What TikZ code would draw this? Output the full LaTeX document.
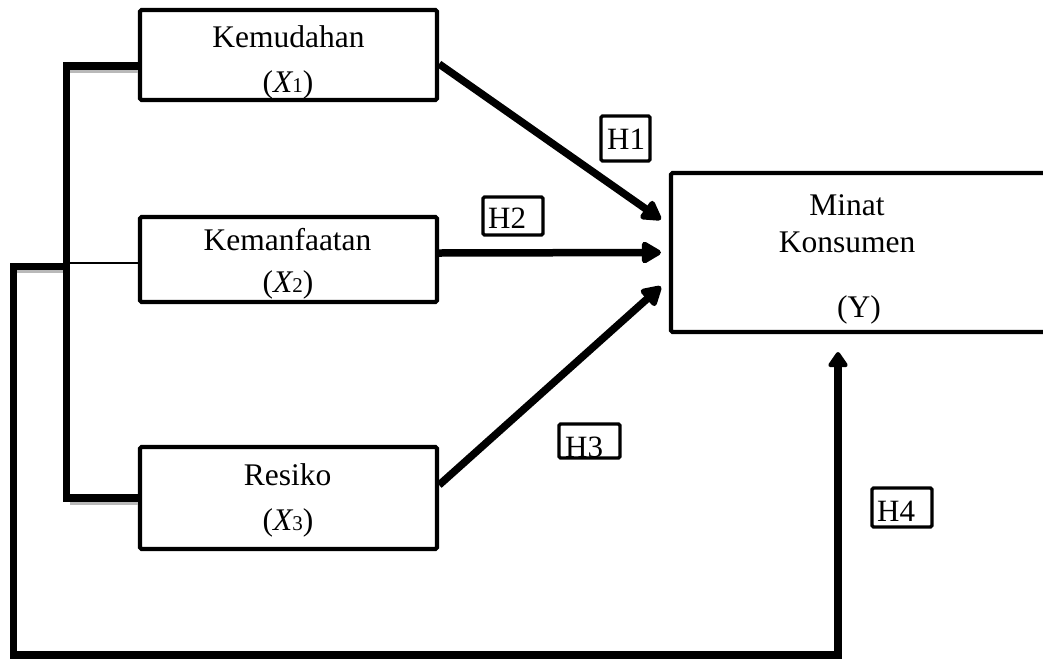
\documentclass[tikz,border=0pt]{standalone}
\usepackage{fontspec}
\setmainfont{Liberation Serif}
\usetikzlibrary{arrows.meta}
\newcommand\xsub[1]{{\itshape X}{\fontsize{21}{21}\selectfont #1}}
\begin{document}
\begin{tikzpicture}[x=1pt,y=-1pt,
  varbox/.style={draw, line width=4.2pt, rounded corners=1.5pt, inner sep=0pt},
  lbl/.style={font=\fontsize{31.5}{38}\selectfont, inner sep=0pt, anchor=base},
  hbox/.style={draw, line width=3.4pt, rounded corners=1.5pt, inner sep=0pt},
  htext/.style={font=\fontsize{31}{36}\selectfont, inner sep=0pt, anchor=base west},
  conn/.style={line width=7.5pt},
  arr/.style={conn, -{Triangle[length=22pt,width=24pt,round]}},
  shadowline/.style={gray!55, line width=2.5pt}
]
\useasboundingbox (0,0) rectangle (1043,659);
\clip (0,0) rectangle (1043,659);

% boxes
\node[varbox, minimum width=297pt, minimum height=90pt] (k) at (288.5,55) {};
\node[varbox, minimum width=297pt, minimum height=85pt] (f) at (288.5,259.5) {};
\node[varbox, minimum width=297pt, minimum height=102pt] (r) at (288.5,498) {};
\node[varbox, minimum width=429pt, minimum height=159pt] (m) at (885.5,252.5) {};

% texts
\node[lbl] (kt1) at (288.5,47) {Kemudahan};
\node[lbl] (kt2) at (288,92) {(\xsub{1})};
\node[lbl] (ft1) at (287.5,250) {Kemanfaatan};
\node[lbl] (ft2) at (288,292) {(\xsub{2})};
\node[lbl] (rt1) at (287.5,485) {Resiko};
\node[lbl] (rt2) at (288,530) {(\xsub{3})};
\node[lbl] (mt1) at (847,215) {Minat};
\node[lbl] (mt2) at (847,252) {Konsumen};
\node[lbl] (mt3) at (859,317) {(Y)};

% bracket coordinates
\coordinate (bt) at (66.5,66);
\coordinate (bb) at (66.5,498);
\coordinate (bm) at (66.5,263);
\coordinate (oj) at (66.5,266.5);
\coordinate (ol) at (13.5,266.5);
\coordinate (obl) at (13.5,655);
\coordinate (obr) at (838,655);
\coordinate (h4e) at (838,352);

% shadows
\draw[shadowline] (70,71.5) -- (138,71.5);
\draw[shadowline] (70,503.5) -- (138,503.5);
\draw[shadowline] (17,271.5) -- (63,271.5);

% bracket
\draw[conn] ([yshift=-11pt]k.west) -- (bt) -- (bb) -- (r.west);
\draw[line width=1.5pt] (bm) -- (f.west |- bm);

% outer loop H4
\draw[conn, -{Triangle[round,length=17pt,width=22pt]}]
  (oj) -- (ol) -- (obl) -- (obr) -- (h4e);

% arrows H1-H3
\draw[arr] ([yshift=-9pt]k.east) -- ([xshift=-8pt,yshift=33pt]m.west);
\draw[arr] ([yshift=6.5pt]f.east) -- ([xshift=-8pt]m.west);
\draw[arr] ([yshift=13pt]r.east) -- ([xshift=-8pt,yshift=-34pt]m.west);

% hypothesis labels
\node[htext] (h1t) at (607,149) {H1};
\node[htext] (h2t) at (488,228) {H2};
\node[htext] (h3t) at (565,457) {H3};
\node[htext] (h4t) at (877,521) {H4};
\node[hbox, minimum width=49pt, minimum height=45pt] (h1) at (625.5,138.5) {};
\node[hbox, minimum width=60pt, minimum height=38pt] (h2) at (513,216) {};
\node[hbox, minimum width=61pt, minimum height=34pt] (h3) at (589.5,441) {};
\node[hbox, minimum width=60pt, minimum height=39pt] (h4) at (902,507.5) {};
\end{tikzpicture}
\end{document}
